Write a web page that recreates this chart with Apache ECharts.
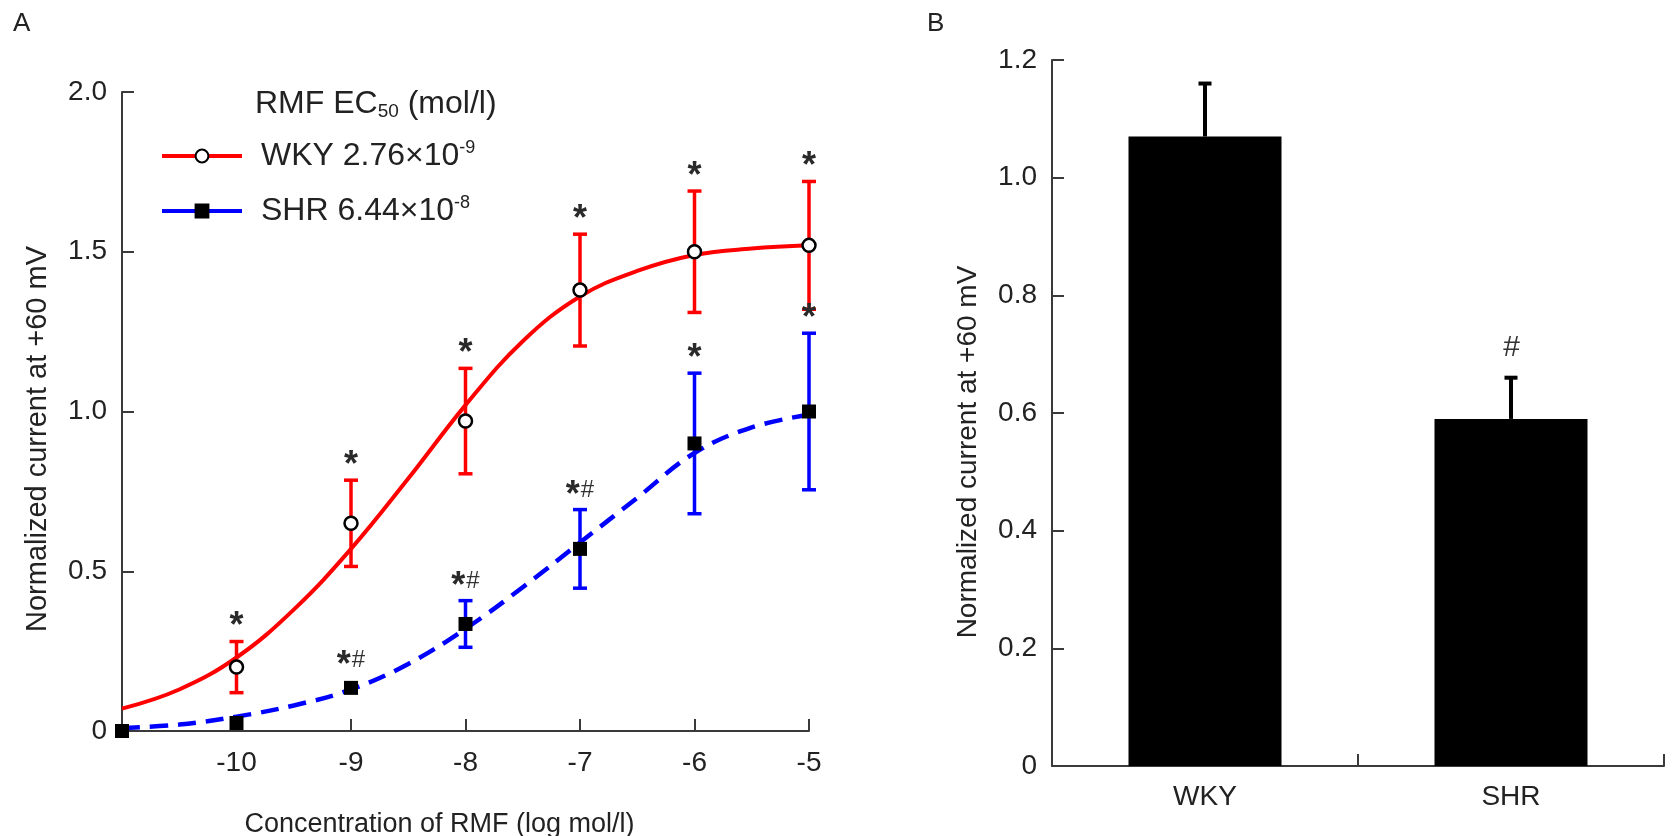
<!DOCTYPE html>
<html><head><meta charset="utf-8">
<script src="https://cdn.jsdelivr.net/npm/echarts@6/dist/echarts.min.js"></script>
<style>html,body{margin:0;padding:0;background:#fff}#c{width:1678px;height:836px}</style>
</head><body><div id="c"></div>
<script>
// ---------- Panel A data ----------
const concentrations = [-11, -10, -9, -8, -7, -6, -5];
const wkyMean = [null, 0.20, 0.65, 0.97, 1.38, 1.50, 1.52];
const wkyErr  = [null, 0.08, 0.135, 0.165, 0.175, 0.19, 0.20];
const shrMean = [0.00, 0.025, 0.135, 0.335, 0.57, 0.90, 1.00];
const shrErr  = [0, 0, 0, 0.073, 0.123, 0.22, 0.245];
const wkySig  = ['', '*', '*', '*', '*', '*', '*'];
const shrSig  = ['', '', '*#', '*#', '*#', '*', '*'];
// fitted curves
const fitX   = [-11, -10.5, -10, -9.5, -9, -8.5, -8, -7.5, -7, -6.5, -6, -5.5, -5];
const wkyFit = [0.07, 0.13, 0.23, 0.38, 0.57, 0.79, 1.02, 1.22, 1.36, 1.44, 1.49, 1.51, 1.52];
const shrFit = [0.01, 0.02, 0.045, 0.08, 0.13, 0.21, 0.32, 0.45, 0.59, 0.73, 0.87, 0.95, 0.99];
const groups = ['WKY', 'SHR'];
const ec50Mantissa = ['2.76', '6.44'];
const ec50Exponent = ['-9', '-8'];
// ---------- Panel B data ----------
const barMean = [1.07, 0.59];
const barErr  = [0.09, 0.07];
const barSig  = ['', '#'];

const FONT = 'Liberation Sans, Arial, Helvetica, sans-serif';
const TXT = '#222';
const AX = '#3a3a3a';

function errorBarRenderer(color, lineWidth, capWidth, twoSided) {
  return function (params, api) {
    const x = api.value(0), m = api.value(1), e = api.value(2);
    if (!(e > 0)) return null;
    const hi = api.coord([x, m + e]);
    const lo = api.coord([x, twoSided ? m - e : m]);
    const h = capWidth / 2;
    const st = { stroke: color, lineWidth: lineWidth };
    const kids = [
      { type: 'line', shape: { x1: hi[0], y1: hi[1], x2: lo[0], y2: lo[1] }, style: st },
      { type: 'line', shape: { x1: hi[0] - h, y1: hi[1], x2: hi[0] + h, y2: hi[1] }, style: st }
    ];
    if (twoSided) kids.push({ type: 'line', shape: { x1: lo[0] - h, y1: lo[1], x2: lo[0] + h, y2: lo[1] }, style: st });
    return { type: 'group', children: kids };
  };
}
function toRich(s) {
  return s.split('').map(c => c === '*' ? '{a|*}' : '{h|#}').join('');
}
function sigRenderer(labels, gap, noErrGap, hashSize, hashRaise) {
  return function (params, api) {
    const x = api.value(0), m = api.value(1), e = api.value(2);
    const lab = labels[api.value(3)];
    const p = api.coord([x, m + (e > 0 ? e : 0)]);
    const off = gap + (e > 0 ? 0 : noErrGap);
    return {
      type: 'text', x: p[0], y: p[1] - off,
      style: {
        text: toRich(lab), align: 'center', verticalAlign: 'middle',
        rich: {
          a: { fontSize: 36, fontWeight: 'bold', fontFamily: FONT, fill: '#2a2a2a', lineHeight: 36 },
          h: { fontSize: hashSize, fontFamily: FONT, fill: '#333', padding: [0, 0, hashRaise, 1] }
        }
      }
    };
  };
}
function pts(mean) {
  return concentrations.map((x, i) => [x, mean[i]]).filter(d => d[1] !== null);
}
function errs(mean, err) {
  return concentrations.map((x, i) => [x, mean[i], err[i], i]).filter(d => d[1] !== null);
}
function sigs(mean, err, sig) {
  return concentrations.map((x, i) => [x, mean[i], err[i] || 0, i]).filter(d => sig[d[3]]);
}

const chart = echarts.init(document.getElementById('c'), null, { renderer: 'canvas' });
const option = {
  backgroundColor: '#fff',
  animation: false,
  title: [
    { text: 'A', left: 8, top: 6, textStyle: { fontSize: 26, fontWeight: 'normal', color: TXT, fontFamily: FONT } },
    { text: 'B', left: 922, top: 6, textStyle: { fontSize: 26, fontWeight: 'normal', color: TXT, fontFamily: FONT } },
    {
      text: '{t|RMF EC}{s|50}{t| (mol/l)}', left: 250, top: 82,
      textStyle: {
        fontWeight: 'normal',
        rich: {
          t: { fontSize: 32, fontWeight: 'normal', color: TXT, fontFamily: FONT, lineHeight: 34 },
          s: { fontSize: 19, fontWeight: 'normal', color: TXT, fontFamily: FONT, lineHeight: 18, verticalAlign: 'bottom' }
        }
      }
    }
  ],
  legend: {
    orient: 'vertical', left: 155, top: 134, itemWidth: 80, itemHeight: 16, itemGap: 22,
    selectedMode: false,
    data: [
      { name: 'WKY', lineStyle: { type: 'solid', width: 4 } },
      { name: 'SHR', lineStyle: { type: 'solid', width: 4 } }
    ],
    formatter: function (name) {
      const i = groups.indexOf(name);
      return '{t|' + name + ' ' + ec50Mantissa[i] + '×10}{s|' + ec50Exponent[i] + '}';
    },
    textStyle: {
      padding: [0, 0, 0, 14],
      rich: {
        t: { fontSize: 32, color: TXT, fontFamily: FONT, lineHeight: 34 },
        s: { fontSize: 18, color: TXT, fontFamily: FONT, lineHeight: 18, verticalAlign: 'top' }
      }
    }
  },
  grid: [
    { left: 122, top: 92, right: 869, bottom: 105, containLabel: false, outerBoundsMode: 'none' },
    { left: 1052, top: 60, right: 14, bottom: 70, containLabel: false, outerBoundsMode: 'none' }
  ],
  xAxis: [
    {
      type: 'value', gridIndex: 0, min: -11, max: -5, interval: 1,
      axisLine: { show: true, onZero: false, lineStyle: { color: AX, width: 2 } },
      axisTick: { show: true, inside: true, length: 12, lineStyle: { color: AX, width: 2 } },
      axisLabel: { formatter: v => (v === -11 ? '' : String(v)), margin: 18, fontSize: 28, color: TXT, fontFamily: FONT },
      splitLine: { show: false },
      name: 'Concentration of RMF (log mol/l)', nameLocation: 'middle', nameGap: 80,
      nameTextStyle: { fontSize: 27, color: TXT, fontFamily: FONT, padding: [0, 52, 0, 0] }
    },
    {
      type: 'category', gridIndex: 1, data: groups,
      axisLine: { show: true, lineStyle: { color: AX, width: 2 } },
      axisTick: { show: true, inside: true, length: 12, alignWithLabel: false, lineStyle: { color: AX, width: 2 } },
      axisLabel: { margin: 17, fontSize: 28, color: TXT, fontFamily: FONT },
      splitLine: { show: false }
    }
  ],
  yAxis: [
    {
      type: 'value', gridIndex: 0, min: 0, max: 2, interval: 0.5,
      axisLine: { show: true, onZero: false, lineStyle: { color: AX, width: 2 } },
      axisTick: { show: true, inside: true, length: 12, lineStyle: { color: AX, width: 2 } },
      axisLabel: { formatter: v => (v === 0 ? '0' : v.toFixed(1)), margin: 15, fontSize: 28, color: TXT, fontFamily: FONT },
      splitLine: { show: false },
      name: 'Normalized current at +60 mV', nameLocation: 'middle', nameGap: 70, nameRotate: 90,
      nameTextStyle: { fontSize: 29, color: TXT, fontFamily: FONT, padding: [0, 55, 0, 0] }
    },
    {
      type: 'value', gridIndex: 1, min: 0, max: 1.2, interval: 0.2,
      axisLine: { show: true, onZero: false, lineStyle: { color: AX, width: 2 } },
      axisTick: { show: true, inside: true, length: 12, lineStyle: { color: AX, width: 2 } },
      axisLabel: { formatter: v => (v === 0 ? '0' : v.toFixed(1)), margin: 15, fontSize: 28, color: TXT, fontFamily: FONT },
      splitLine: { show: false },
      name: 'Normalized current at +60 mV', nameLocation: 'middle', nameGap: 70, nameRotate: 90,
      nameTextStyle: { fontSize: 28, color: TXT, fontFamily: FONT, padding: [0, 78, 0, 0] }
    }
  ],
  series: [
    {
      name: 'WKY', type: 'line', xAxisIndex: 0, yAxisIndex: 0, z: 2, silent: true,
      data: fitX.map((x, i) => [x, wkyFit[i]]), smooth: 0.4, showSymbol: false,
      symbol: 'circle',
      lineStyle: { color: '#ff0000', width: 4 },
      itemStyle: { color: '#ffffff', borderColor: '#000', borderWidth: 2.5 }
    },
    {
      name: 'SHR', type: 'line', xAxisIndex: 0, yAxisIndex: 0, z: 2, silent: true,
      data: fitX.map((x, i) => [x, shrFit[i]]), smooth: 0.4, showSymbol: false,
      symbol: 'rect',
      lineStyle: { color: '#0000ff', width: 4.5, type: [18, 10] },
      itemStyle: { color: '#000', borderColor: '#000', borderWidth: 1 }
    },
    {
      type: 'custom', xAxisIndex: 0, yAxisIndex: 0, z: 3, silent: true,
      renderItem: errorBarRenderer('#ff0000', 3.5, 14, true), data: errs(wkyMean, wkyErr)
    },
    {
      type: 'custom', xAxisIndex: 0, yAxisIndex: 0, z: 3, silent: true,
      renderItem: errorBarRenderer('#0000ff', 3.5, 14, true), data: errs(shrMean, shrErr)
    },
    {
      type: 'scatter', xAxisIndex: 0, yAxisIndex: 0, z: 5, silent: true,
      symbol: 'circle', symbolSize: 13,
      itemStyle: { color: '#ffffff', borderColor: '#000', borderWidth: 2.5, opacity: 1 },
      data: pts(wkyMean)
    },
    {
      type: 'scatter', xAxisIndex: 0, yAxisIndex: 0, z: 5, silent: true,
      symbol: 'rect', symbolSize: 14,
      itemStyle: { color: '#000', opacity: 1 },
      data: pts(shrMean)
    },
    {
      type: 'custom', xAxisIndex: 0, yAxisIndex: 0, z: 6, silent: true,
      renderItem: sigRenderer(wkySig, 14, 8, 24, 10), data: sigs(wkyMean, wkyErr, wkySig)
    },
    {
      type: 'custom', xAxisIndex: 0, yAxisIndex: 0, z: 6, silent: true,
      renderItem: sigRenderer(shrSig, 14, 8, 24, 10), data: sigs(shrMean, shrErr, shrSig)
    },
    {
      type: 'bar', xAxisIndex: 1, yAxisIndex: 1, z: 2, silent: true,
      barWidth: '50%', itemStyle: { color: '#000' }, data: barMean
    },
    {
      type: 'custom', xAxisIndex: 1, yAxisIndex: 1, z: 3, silent: true,
      renderItem: errorBarRenderer('#000', 4, 13, false),
      data: barMean.map((m, i) => [i, m, barErr[i], i])
    },
    {
      type: 'custom', xAxisIndex: 1, yAxisIndex: 1, z: 4, silent: true,
      renderItem: sigRenderer(barSig, 30, 0, 30, 0),
      data: barMean.map((m, i) => [i, m, barErr[i], i]).filter(d => barSig[d[3]])
    }
  ]
};
chart.setOption(option);
</script>
</body></html>
